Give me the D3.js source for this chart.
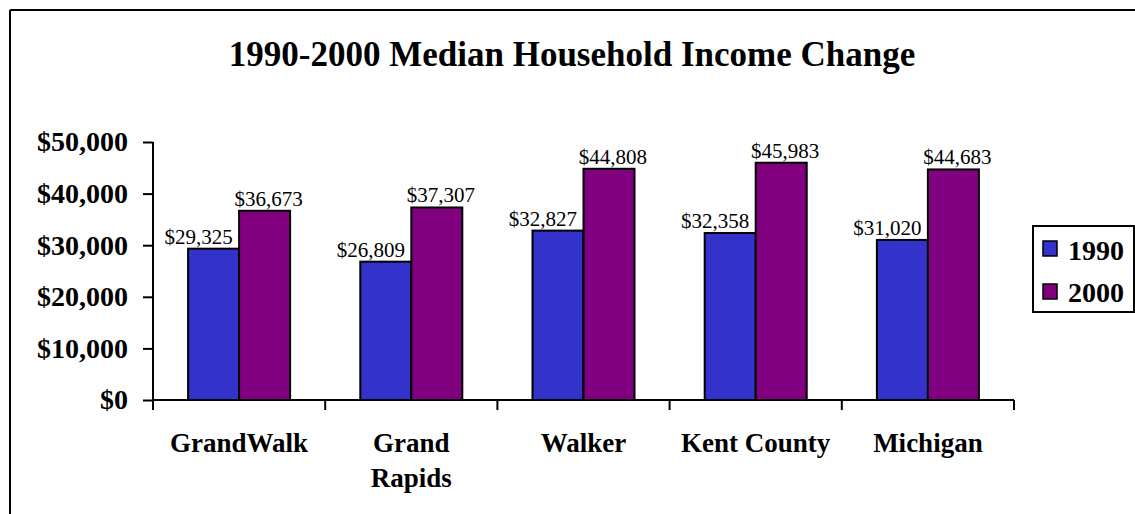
<!DOCTYPE html>
<html>
<head>
<meta charset="utf-8">
<script src="https://cdn.jsdelivr.net/npm/d3@7/dist/d3.min.js"></script>
<style>
  html, body { margin: 0; padding: 0; background: #fff; }
  svg { display: block; }
  text { font-family: "Liberation Serif", "Times New Roman", serif; fill: #000; }
</style>
</head>
<body>
<svg id="chart" width="1135" height="514"></svg>
<script>
// Median household income by area, 1990 vs 2000
const categories = [["GrandWalk"], ["Grand", "Rapids"], ["Walker"], ["Kent County"], ["Michigan"]];
const categoryKeys = ["GrandWalk", "Grand Rapids", "Walker", "Kent County", "Michigan"];
const seriesNames = ["1990", "2000"];
const income1990 = [29325, 26809, 32827, 32358, 31020];
const income2000 = [36673, 37307, 44808, 45983, 44683];
const yTicks = [0, 10000, 20000, 30000, 40000, 50000];
const titleText = "1990-2000 Median Household Income Change";

const colors = { "1990": "#3333CC", "2000": "#800080" };
const seriesValues = { "1990": income1990, "2000": income2000 };

const svg = d3.select("#chart");

// Frame lines along the top and left edges
svg.append("line").attr("x1", 10).attr("y1", 10).attr("x2", 1135).attr("y2", 10)
  .attr("stroke", "#000").attr("stroke-width", 2);
svg.append("line").attr("x1", 10).attr("y1", 10).attr("x2", 10).attr("y2", 514)
  .attr("stroke", "#000").attr("stroke-width", 2);

// Title
svg.append("text")
  .attr("x", 572).attr("y", 66)
  .attr("text-anchor", "middle")
  .style("font-size", "35px").style("font-weight", "bold")
  .text(titleText);

const x = d3.scaleBand().domain(categoryKeys).range([153, 1014]).paddingInner(0).paddingOuter(0);
const xs = d3.scaleBand().domain(seriesNames).range([0, x.bandwidth()]).paddingInner(0).paddingOuter(0.688);
const y = d3.scaleLinear().domain([0, 50000]).range([400, 142]);

// Y axis
const yAxis = d3.axisLeft(y).tickValues(yTicks).tickSize(10).tickPadding(15)
  .tickFormat(d => "$" + d3.format(",")(d));
const gy = svg.append("g").attr("transform", "translate(153,0)").call(yAxis);
gy.select(".domain").attr("stroke", "#000").attr("stroke-width", 2).attr("d", "M0," + y(50000) + "V" + y(0));
gy.selectAll(".tick line").attr("stroke", "#000").attr("stroke-width", 2);
gy.selectAll(".tick text")
  .style("font-family", "'Liberation Serif', 'Times New Roman', serif")
  .style("font-size", "28px").style("font-weight", "bold").attr("fill", "#000");

// Bars
const rows = categoryKeys.map((k, i) => ({ key: k, values: seriesNames.map(s => ({ s, v: seriesValues[s][i] })) }));
const groups = svg.selectAll("g.cat").data(rows).enter().append("g")
  .attr("class", "cat").attr("transform", d => "translate(" + x(d.key) + ",0)");
groups.selectAll("rect").data(d => d.values).enter().append("rect")
  .attr("x", d => xs(d.s)).attr("width", xs.bandwidth())
  .attr("y", d => y(d.v)).attr("height", d => y(0) - y(d.v))
  .attr("fill", d => colors[d.s]).attr("stroke", "#000").attr("stroke-width", 2);

// Value labels
const labelShift = { "1990": -15, "2000": 4 };
groups.selectAll("text.val").data(d => d.values).enter().append("text")
  .attr("class", "val")
  .attr("x", d => xs(d.s) + xs.bandwidth() / 2 + labelShift[d.s])
  .attr("y", d => y(d.v) - 5)
  .attr("text-anchor", "middle")
  .style("font-size", "21px")
  .text(d => "$" + d3.format(",")(d.v));

// X axis
const xAxis = d3.axisBottom(x).tickSize(0).tickFormat("");
const gx = svg.append("g").attr("transform", "translate(0,400)").call(xAxis);
gx.select(".domain").attr("stroke", "#000").attr("stroke-width", 2).attr("d", "M153,0H1014");
const boundaries = categoryKeys.map(k => x(k)).concat([x.range()[1]]);
gx.selectAll("line.sep").data(boundaries).enter().append("line")
  .attr("class", "sep").attr("x1", d => d).attr("x2", d => d)
  .attr("y1", 0).attr("y2", 10).attr("stroke", "#000").attr("stroke-width", 2);

// Category labels
categoryKeys.forEach((k, i) => {
  const t = svg.append("text")
    .attr("x", x(k) + x.bandwidth() / 2).attr("y", 452)
    .attr("text-anchor", "middle")
    .style("font-size", "27px").style("font-weight", "bold");
  categories[i].forEach((line, j) => {
    t.append("tspan").attr("x", x(k) + x.bandwidth() / 2).attr("dy", j === 0 ? 0 : 35).text(line);
  });
});

// Legend
const legend = svg.append("g");
legend.append("rect").attr("x", 1033).attr("y", 226).attr("width", 101).attr("height", 86)
  .attr("fill", "#fff").attr("stroke", "#000").attr("stroke-width", 2);
seriesNames.forEach((s, i) => {
  legend.append("rect").attr("x", 1043).attr("y", 241 + i * 43).attr("width", 14).attr("height", 15)
    .attr("fill", colors[s]).attr("stroke", "#000").attr("stroke-width", 1.5);
  legend.append("text").attr("x", 1068).attr("y", 260 + i * 42)
    .style("font-size", "28px").style("font-weight", "bold").text(s);
});
</script>
</body>
</html>
